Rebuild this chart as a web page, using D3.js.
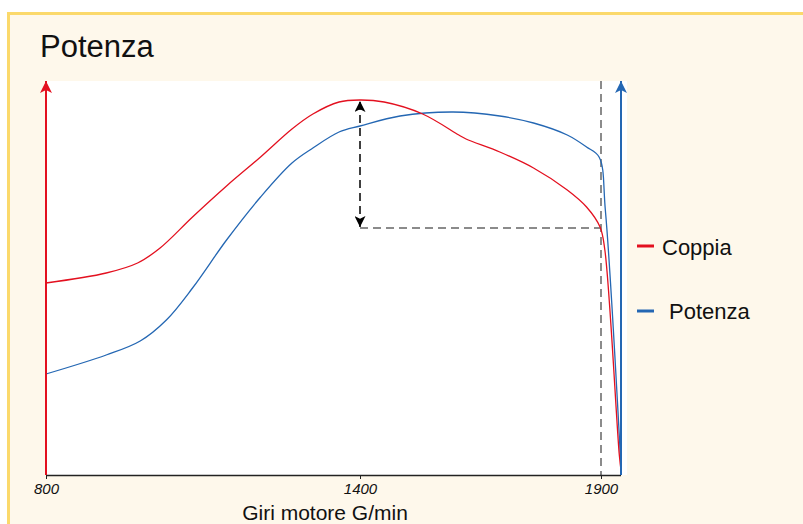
<!DOCTYPE html>
<html>
<head>
<meta charset="utf-8">
<script src="https://cdn.jsdelivr.net/npm/d3@7"></script>
<style>
  body { margin: 0; background: #fff; }
  svg { display: block; font-family: "Liberation Sans", Arial, sans-serif; }
</style>
</head>
<body>
<div id="chart"></div>
<script>
// rpm
const coppiaRpm = [800, 915, 975, 1018, 1080, 1145, 1210, 1270, 1310, 1360, 1400, 1450, 1530, 1605, 1620, 1690, 1760, 1830, 1870, 1898, 1908, 1938, 1942];
const coppiaVal = [192, 202, 212, 227, 258, 289, 318, 346, 361, 373, 375, 373, 361, 340, 336, 323, 307, 285, 268, 248, 225, 20, 3];

const potenzaRpm = [800, 915, 980, 1030, 1080, 1145, 1210, 1270, 1310, 1360, 1400, 1483, 1593, 1690, 1760, 1830, 1870, 1896, 1909, 1942];
const potenzaVal = [101, 120, 134, 155, 187, 235, 278, 312, 327, 343, 349, 359, 363, 359, 352, 340, 328, 318, 265, 3];

const xTicks = [800, 1400, 1900];
const markRpm = 1400;   // double arrow
const limitRpm = 1900;  // dashed limit
const limitVal = 247;   // coppia at the limit

const W = 803, H = 524;
const plotL = 46, plotR = 621, plotT = 81, plotB = 475;

const svg = d3.select('#chart').append('svg')
  .attr('width', W).attr('height', H);

// frame
svg.append('rect')
  .attr('x', 8.5).attr('y', 13.5)
  .attr('width', W + 10).attr('height', H + 10)
  .attr('fill', '#fef8eb')
  .attr('stroke', '#fbd96b')
  .attr('stroke-width', 3);

svg.append('text')
  .attr('x', 40).attr('y', 57)
  .attr('font-size', 31)
  .attr('fill', '#111')
  .text('Potenza');

svg.append('rect')
  .attr('x', plotL).attr('y', plotT)
  .attr('width', 627 - plotL).attr('height', plotB - plotT)
  .attr('fill', '#fff');

// the axis spacing in the picture is not even, so piecewise
const x = d3.scaleLinear()
  .domain([800, 1400, 1900])
  .range([plotL, 360, 601]);

const y = d3.scaleLinear()
  .domain([0, 400])
  .range([plotB, plotB - 400]);

const defs = svg.append('defs');
function marker(id, colour, w, h) {
  defs.append('marker')
    .attr('id', id)
    .attr('viewBox', '0 0 10 10')
    .attr('refX', 10).attr('refY', 5)
    .attr('markerWidth', w).attr('markerHeight', h)
    .attr('markerUnits', 'userSpaceOnUse')
    .attr('orient', 'auto-start-reverse')
    .append('path')
    .attr('d', 'M0,0 L10,5 L0,10 L2.5,5 Z')
    .attr('fill', colour);
}
marker('arrRed', '#e3101f', 14, 12);
marker('arrBlue', '#2467b3', 14, 12);
marker('arrBlack', '#000', 13, 11);

// limit dashed lines
svg.append('line')
  .attr('x1', x(limitRpm)).attr('x2', x(limitRpm))
  .attr('y1', plotT).attr('y2', plotB)
  .attr('stroke', '#666').attr('stroke-width', 1.5)
  .attr('stroke-dasharray', '8,5');

svg.append('line')
  .attr('x1', x(markRpm)).attr('x2', x(limitRpm))
  .attr('y1', y(limitVal)).attr('y2', y(limitVal))
  .attr('stroke', '#666').attr('stroke-width', 1.5)
  .attr('stroke-dasharray', '8,5');

const line = d3.line()
  .x(d => x(d[0]))
  .y(d => y(d[1]))
  .curve(d3.curveCatmullRom.alpha(0.5));

svg.append('path')
  .datum(d3.zip(potenzaRpm, potenzaVal))
  .attr('d', line)
  .attr('fill', 'none')
  .attr('stroke', '#2467b3')
  .attr('stroke-width', 1.3);

svg.append('path')
  .datum(d3.zip(coppiaRpm, coppiaVal))
  .attr('d', line)
  .attr('fill', 'none')
  .attr('stroke', '#e3101f')
  .attr('stroke-width', 1.3);

// double arrow at 1400
svg.append('line')
  .attr('x1', x(markRpm)).attr('x2', x(markRpm))
  .attr('y1', y(limitVal) - 1).attr('y2', y(375) + 1)
  .attr('stroke', '#000').attr('stroke-width', 1.5)
  .attr('stroke-dasharray', '8,5')
  .attr('marker-start', 'url(#arrBlack)')
  .attr('marker-end', 'url(#arrBlack)');

// x axis
const xAxis = d3.axisBottom(x)
  .tickValues(xTicks)
  .tickSize(4)
  .tickSizeOuter(0)
  .tickFormat(d3.format('d'));

const gx = svg.append('g')
  .attr('transform', `translate(0,${plotB})`)
  .call(xAxis);
gx.select('.domain')
  .attr('d', `M${plotL},0.5H${plotR}`)
  .attr('stroke', '#222').attr('stroke-width', 1.5);
gx.selectAll('.tick line').attr('stroke', '#222');
gx.selectAll('.tick text')
  .attr('font-size', 15)
  .attr('font-style', 'italic')
  .attr('font-family', '"Liberation Sans", Arial, sans-serif')
  .attr('fill', '#111')
  .attr('dy', '0.8em');

svg.append('text')
  .attr('x', 325).attr('y', 520)
  .attr('text-anchor', 'middle')
  .attr('font-size', 21)
  .attr('fill', '#111')
  .text('Giri motore G/min');

// vertical arrows
svg.append('line')
  .attr('x1', plotL).attr('x2', plotL)
  .attr('y1', plotB).attr('y2', plotT)
  .attr('stroke', '#e3101f').attr('stroke-width', 2)
  .attr('marker-end', 'url(#arrRed)');

svg.append('line')
  .attr('x1', plotR).attr('x2', plotR)
  .attr('y1', plotB).attr('y2', plotT)
  .attr('stroke', '#2467b3').attr('stroke-width', 2)
  .attr('marker-end', 'url(#arrBlue)');

// legend
const legend = [
  { name: 'Coppia', colour: '#e3101f', y: 246, tx: 662, ty: 255 },
  { name: 'Potenza', colour: '#2467b3', y: 311, tx: 669, ty: 319 }
];
legend.forEach(l => {
  svg.append('line')
    .attr('x1', 637).attr('x2', 654)
    .attr('y1', l.y).attr('y2', l.y)
    .attr('stroke', l.colour).attr('stroke-width', 3);
  svg.append('text')
    .attr('x', l.tx).attr('y', l.ty)
    .attr('font-size', 22)
    .attr('fill', '#111')
    .text(l.name);
});
</script>
</body>
</html>
